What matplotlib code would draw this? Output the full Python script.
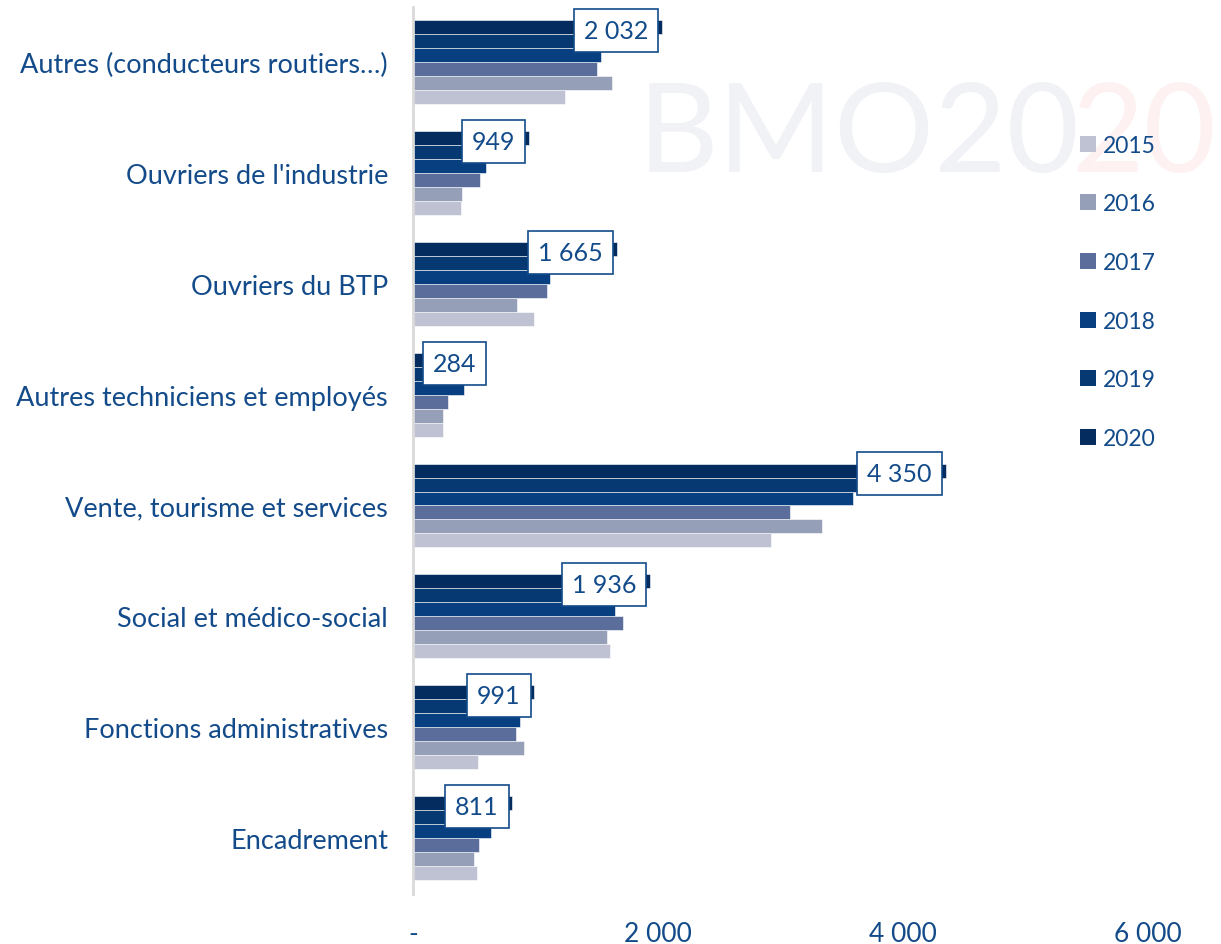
import matplotlib
matplotlib.use('Agg')
from matplotlib import pyplot as plt
from matplotlib.patches import Patch

# Data (2019 values are partly hidden behind the labels)
categories = ['Autres (conducteurs routiers\u2026)', "Ouvriers de l'industrie", 'Ouvriers du BTP',
              'Autres techniciens et employés', 'Vente, tourisme et services',
              'Social et médico-social', 'Fonctions administratives', 'Encadrement']
years = ['2015', '2016', '2017', '2018', '2019', '2020']
v2015 = [1238, 389, 988, 245, 2923, 1606, 531, 522]
v2016 = [1627, 402, 851, 247, 3338, 1586, 909, 500]
v2017 = [1505, 547, 1094, 288, 3075, 1714, 843, 541]
v2018 = [1532, 598, 1118, 416, 3594, 1649, 871, 634]
v2019 = [1750, 700, 1400, 350, 4000, 1800, 960, 700]
v2020 = [2032, 949, 1665, 284, 4350, 1936, 991, 811]
series = [v2015, v2016, v2017, v2018, v2019, v2020]
colors = ['#bec2d2', '#959fb8', '#5b6d9a', '#073f80', '#063872', '#052c5e']

text_blue = '#134b8a'
plt.rcParams['font.family'] = ['Lato', 'DejaVu Sans']

fig = plt.figure(figsize=(12.21, 9.45), dpi=100)
fig.patch.set_facecolor('white')

# faint watermark
fig.text(0.522, 0.855, 'BMO20', fontsize=90, color='#f1f2f6', ha='left', va='center', zorder=0)
fig.text(0.877, 0.855, '20', fontsize=90, color='#fdf1f1', ha='left', va='center', zorder=0)

ax = fig.add_axes([0.3383, 0.0534, 0.6019, 0.9386])
ax.patch.set_alpha(0)

h = 0.126
n = len(years)
for k, (yr, vals, col) in enumerate(zip(years, series, colors)):
    off = (n - 1 - k - (n - 1) / 2) * h
    ypos = [i + off for i in range(len(categories))]
    ax.barh(ypos, vals, height=h, color=col, edgecolor='#ffffff', linewidth=0.4, label=yr)

# data labels for 2020 (top bar of each group)
off20 = -(n - 1) / 2 * h
box = dict(boxstyle='square,pad=0.4', fc='white', ec=text_blue, lw=1.2)
for i, v in enumerate(v2020):
    lab = f'{v:,}'.replace(',', ' ')
    if v < 600:
        # too short: label starts just right of the axis
        ax.annotate(lab, xy=(0, i + off20 + 0.03), xytext=(14, 0), textcoords='offset points',
                    ha='left', va='center', fontsize=18, color=text_blue, bbox=box)
    else:
        ax.annotate(lab, xy=(v, i + off20 + 0.03), xytext=(-10, 0), textcoords='offset points',
                    ha='right', va='center', fontsize=18, color=text_blue, bbox=box)

ax.set_xlim(0, 6000)
ax.set_ylim(7.5, -0.5)
ax.set_yticks(range(len(categories)))
ax.set_yticklabels(categories, fontsize=19.5, color=text_blue)
ax.set_xticks([0, 2000, 4000, 6000])
ax.set_xticklabels(['-', '2 000', '4 000', '6 000'], fontsize=19, color=text_blue)
ax.tick_params(axis='both', length=0)
ax.tick_params(axis='x', pad=20)
ax.tick_params(axis='y', pad=18)
for s in ['top', 'right', 'bottom']:
    ax.spines[s].set_visible(False)
ax.spines['left'].set_color('#d9d9d9')
ax.spines['left'].set_linewidth(2)

handles = [Patch(facecolor=c, label=y) for y, c in zip(years, colors)]
leg = fig.legend(handles=handles, loc='upper left', bbox_to_anchor=(0.868, 0.878),
                 frameon=False, fontsize=16.5, labelspacing=1.64, handlelength=0.7,
                 handleheight=0.7, handletextpad=0.3)
for t in leg.get_texts():
    t.set_color(text_blue)

fig.savefig('out.png', dpi=100)
